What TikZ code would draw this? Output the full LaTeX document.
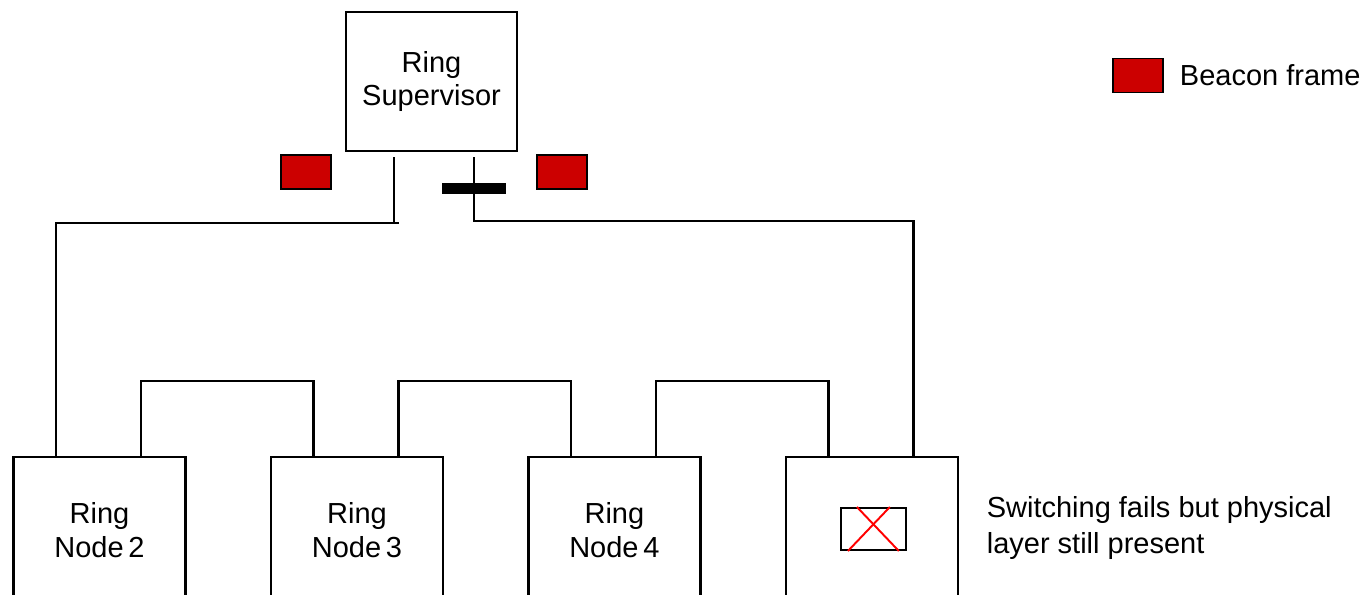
\documentclass[tikz,border=0pt]{standalone}
\usepackage{fontspec}
\setmainfont{Liberation Sans}
\usetikzlibrary{positioning,calc}
\definecolor{beaconred}{HTML}{CC0000}
\definecolor{failred}{HTML}{FF0000}

\tikzset{
  ringbox/.style={draw,line width=1.4pt,minimum width=3.44cm,minimum height=2.92cm,
    align=center,font=\fontsize{16.5}{19}\selectfont},
  supbox/.style={draw,line width=1.4pt,minimum width=3.42cm,minimum height=2.78cm,
    align=center,font=\fontsize{16.5}{19}\selectfont},
  frame/.style={draw,fill=beaconred,line width=0.8pt,minimum width=1cm,minimum height=0.68cm,inner sep=0pt},
  wire/.style={line width=1.4pt},
  breakbar/.style={fill=black,minimum width=1.28cm,minimum height=0.22cm,inner sep=0pt},
  note/.style={font=\fontsize{16.5}{21}\selectfont,align=left}
}

\begin{document}
\begin{tikzpicture}

  \useasboundingbox (0,0) rectangle (27.34,11.88);

  % ---- Supervisor --------------------------------------------
  \node[supbox] (sup) at (8.63,10.25) {Ring\\Supervisor};
  \coordinate (sl) at ($(sup.south)+(-0.75,-0.1)$);
  \coordinate (sr) at ($(sup.south)+(0.85,-0.1)$);

  % ---- Ring nodes --------------------------------------------
  \node[ringbox] (node2) at (1.99,1.28) {Ring\\Node\,2};
  \node[ringbox,right=1.66cm of node2] (node3) {Ring\\Node\,3};
  \node[ringbox,right=1.66cm of node3] (node4) {Ring\\Node\,4};
  \node[ringbox,right=1.66cm of node4] (node5) {};

  % ports on top of each node
  \foreach \n in {2,3,4,5}{
    \coordinate (p\n l) at ($(node\n.north)+(-0.87,0)$);
    \coordinate (p\n r) at ($(node\n.north)+(0.83,0)$);
  }

  % ---- Ring wiring -------------------------------------------
  \coordinate (lend) at ($(sl)+(0.1,-1.32)$);
  \draw[wire] (sl) -- (sl |- lend);
  \draw[wire] (lend) -| (p2l);
  \draw[wire] (sr) -- ++(0,-1.28) -| (p5r);
  \draw[wire] (p2r) -- ++(0,1.5) -| (p3l);
  \draw[wire] (p3r) -- ++(0,1.5) -| (p4l);
  \draw[wire] (p4r) -- ++(0,1.5) -| (p5l);

  % open switch
  \node[breakbar] (break) at ($(sr)+(0,-0.63)$) {};

  % ---- Beacon frames -----------------------------------------
  \node[frame] (bleft)  at (6.12,8.44) {};
  \node[frame] (bright) at (11.24,8.44) {};

  % ---- Failed switch -----------------------------------------
  \node[draw,line width=1.2pt,minimum width=1.3cm,minimum height=0.84cm] (fail) at ($(node5)+(0.03,0.02)$) {};
  \draw[failred,line width=1.1pt] ($(fail.north)+(-0.33,0)$) -- ($(fail.south)+(0.51,0)$);
  \draw[failred,line width=1.1pt] ($(fail.north)+(0.33,0)$) -- ($(fail.south)+(-0.51,0)$);
  \node[note,right=0.43cm of node5,yshift=0.04cm] (failnote)
    {Switching fails but physical\\layer still present};

  % ---- Legend ------------------------------------------------
  \node[frame] (legsq) at (22.76,10.37) {};
  \node[note,right=0.2cm of legsq] (legtxt) {Beacon frame};

\end{tikzpicture}
\end{document}
